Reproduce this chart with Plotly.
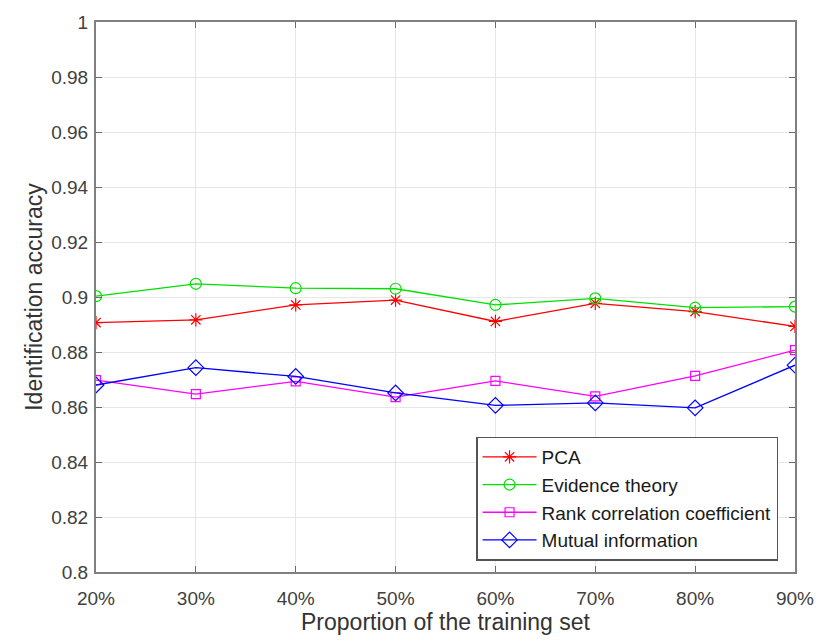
import plotly.graph_objects as go

x_vals = [20, 30, 40, 50, 60, 70, 80, 90]
x_labels = ["20%", "30%", "40%", "50%", "60%", "70%", "80%", "90%"]
pca = [0.8907, 0.8917, 0.8971, 0.8989, 0.8911, 0.8977, 0.8947, 0.8893]
evidence = [0.9003, 0.9048, 0.9032, 0.9030, 0.8971, 0.8995, 0.8961, 0.8965]
rank_corr = [0.8698, 0.8647, 0.8693, 0.8636, 0.8695, 0.8639, 0.8713, 0.8807]
mutual = [0.8680, 0.8743, 0.8711, 0.8651, 0.8606, 0.8615, 0.8597, 0.8752]
y_ticks = [0.8, 0.82, 0.84, 0.86, 0.88, 0.9, 0.92, 0.94, 0.96, 0.98, 1.0]
y_labels = ["0.8", "0.82", "0.84", "0.86", "0.88", "0.9", "0.92", "0.94", "0.96", "0.98", "1"]

series = [
    ("PCA", pca, "#ff0000", "asterisk-open", 11),
    ("Evidence theory", evidence, "#00e000", "circle-open", 11),
    ("Rank correlation coefficient", rank_corr, "#ff00ff", "square-open", 9),
    ("Mutual information", mutual, "#0000ff", "diamond-open", 12),
]

FONT = "Liberation Sans, Arial, sans-serif"

fig = go.Figure()
for name, vals, color, sym, size in series:
    fig.add_trace(go.Scatter(
        x=x_vals, y=vals, name=name, mode="lines+markers",
        line=dict(color=color, width=1.3),
        marker=dict(symbol=sym, size=size, color=color, line=dict(color=color, width=1.2)),
    ))

axis_common = dict(
    showline=True, linecolor="#808080", linewidth=2, mirror="ticks",
    ticks="inside", ticklen=6, tickcolor="#6a6a6a",
    showgrid=True, gridcolor="#e6e6e6", gridwidth=1, zeroline=False,
    tickfont=dict(family=FONT, size=19, color="#404040"),
)

fig.update_layout(
    width=826, height=644,
    margin=dict(l=96, r=24, t=15, b=72),
    plot_bgcolor="white", paper_bgcolor="white",
    font=dict(family=FONT, color="#262626"),
    xaxis=dict(range=[20, 90], tickvals=x_vals, ticktext=x_labels, ticklabelstandoff=8,
               title=dict(text="Proportion of the training set", font=dict(size=23, color="#333333"), standoff=3),
               **axis_common),
    yaxis=dict(range=[0.8, 1.0], tickvals=y_ticks, ticktext=y_labels, ticklabelstandoff=2,
               title=dict(text="Identification accuracy", font=dict(size=23, color="#333333"), standoff=2),
               **axis_common),
    legend=dict(x=0.5440, y=0.2460, xanchor="left", yanchor="top",
                bgcolor="white", bordercolor="#555555", borderwidth=1.3,
                font=dict(family=FONT, size=19, color="#1a1a1a"), tracegroupgap=0, itemwidth=54),
    showlegend=True,
)

fig.write_html("out.html")
